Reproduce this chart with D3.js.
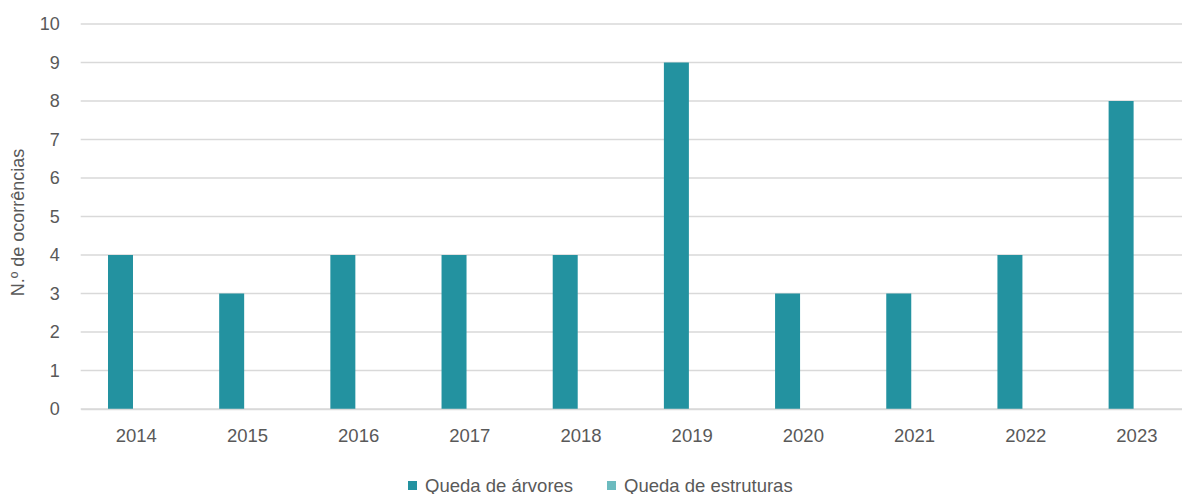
<!DOCTYPE html>
<html>
<head>
<meta charset="utf-8">
<script src="https://cdn.jsdelivr.net/npm/d3@7"></script>
<style>
  html, body { margin: 0; padding: 0; background: #ffffff; overflow: hidden; }
  svg { display: block; font-family: "Liberation Sans", Arial, sans-serif; }
</style>
</head>
<body>
<svg id="chart" width="1182" height="494"></svg>
<script>
// Occurrences per year, by type
const years = ["2014", "2015", "2016", "2017", "2018", "2019", "2020", "2021", "2022", "2023"];
const seriesNames = ["Queda de árvores", "Queda de estruturas"];
const quedaArvores = [4, 3, 4, 4, 4, 9, 3, 3, 4, 8];
const quedaEstruturas = [0, 0, 0, 0, 0, 0, 0, 0, 0, 0];
const yTicks = [0, 1, 2, 3, 4, 5, 6, 7, 8, 9, 10];
const colors = ["#2392A0", "#6CBBBF"];

const seriesValues = [quedaArvores, quedaEstruturas];
const rows = years.map((y, i) => ({ year: y, values: seriesValues.map(s => s[i]) }));

const svg = d3.select("#chart");
const margin = { left: 80.7, right: -10.5, top: 24, bottom: 85 };
const W = 1182, H = 494;
const plotW = W - margin.left - margin.right;
const plotH = H - margin.top - margin.bottom;
const textColor = "#595959";

const x0 = d3.scaleBand().domain(years).range([0, plotW]).paddingInner(0.491).paddingOuter(0.2455);
const x1 = d3.scaleBand().domain(seriesNames).range([0, x0.bandwidth()]).paddingInner(0.209);
const y = d3.scaleLinear().domain([0, 10]).range([plotH, 0]);

const g = svg.append("g").attr("transform", `translate(${margin.left},${margin.top})`);

// horizontal gridlines
g.append("g").selectAll("line").data(yTicks).join("line")
  .attr("x1", 0).attr("x2", plotW)
  .attr("y1", d => y(d)).attr("y2", d => y(d))
  .attr("stroke", "#D9D9D9").attr("stroke-width", 1.3);

// y axis labels
const yAxis = g.append("g").call(d3.axisLeft(y).tickValues(yTicks).tickSize(0).tickPadding(21).tickFormat(d3.format("d")));
yAxis.select(".domain").remove();
yAxis.selectAll("text").attr("fill", textColor).style("font-size", "18px")
  .style("font-family", "'Liberation Sans', Arial, sans-serif");

// bars
const groups = g.append("g").selectAll("g").data(rows).join("g")
  .attr("transform", d => `translate(${x0(d.year)},0)`);
groups.selectAll("rect").data(d => d.values.map((v, i) => ({ name: seriesNames[i], v, i }))).join("rect")
  .attr("x", d => x1(d.name))
  .attr("width", x1.bandwidth())
  .attr("y", d => y(d.v))
  .attr("height", d => plotH - y(d.v))
  .attr("fill", d => colors[d.i]);

// x axis baseline and labels
const xAxisG = g.append("g").attr("transform", `translate(0,${plotH})`)
  .call(d3.axisBottom(x0).tickSize(0).tickPadding(20));
xAxisG.select(".domain").attr("stroke", "#D9D9D9").attr("stroke-width", 1.3);
xAxisG.selectAll("text").attr("fill", textColor).style("font-size", "18.5px")
  .style("font-family", "'Liberation Sans', Arial, sans-serif");

// y axis title
svg.append("text")
  .attr("transform", `translate(24,${margin.top + plotH / 2 + 6}) rotate(-90)`)
  .attr("text-anchor", "middle")
  .attr("fill", textColor)
  .style("font-size", "18px")
  .text("N.º de ocorrências");

// legend
const legendItems = [{ name: seriesNames[0], x: 408 }, { name: seriesNames[1], x: 607 }];
const legend = svg.append("g").selectAll("g").data(legendItems).join("g")
  .attr("transform", d => `translate(${d.x},480)`);
legend.append("rect").attr("width", 9).attr("height", 9).attr("y", 1)
  .attr("fill", (d, i) => colors[i]);
legend.append("text").attr("x", 17).attr("y", 11.5)
  .attr("fill", textColor).style("font-size", "18.5px")
  .text(d => d.name);
</script>
</body>
</html>
